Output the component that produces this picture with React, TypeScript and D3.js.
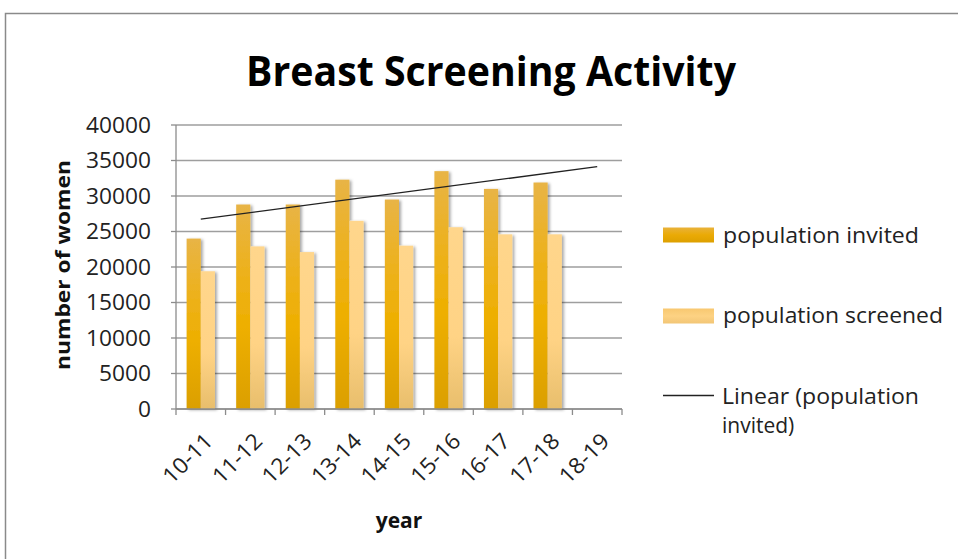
import React from "react";
import * as d3 from "d3";

const categories = ["10-11", "11-12", "12-13", "13-14", "14-15", "15-16", "16-17", "17-18", "18-19"];
const invited = [24000, 28800, 28800, 32300, 29500, 33500, 31000, 31900];
const screened = [19400, 22900, 22100, 26500, 23000, 25600, 24600, 24600];
const yTicks = [0, 5000, 10000, 15000, 20000, 25000, 30000, 35000, 40000];
const seriesNames = ["population invited", "population screened"];

const W = 958;
const H = 559;
const FONT = "'Open Sans', 'Liberation Sans', sans-serif";

export default function App() {
  const x = d3.scaleBand<string>().domain(categories).range([176, 622]).paddingInner(0).paddingOuter(0);
  const bw = x.bandwidth();
  const x1 = d3.scaleBand<string>().domain(["inv", "scr"]).range([0, bw]).paddingInner(0).paddingOuter(0.75);
  const y = d3.scaleLinear().domain([0, 40000]).range([409, 125]);

  // linear trendline of invited, forecast 1 period forward
  const n = invited.length;
  const xs = invited.map((_, i) => i + 1);
  const mx = d3.mean(xs) as number;
  const my = d3.mean(invited) as number;
  const sxy = d3.sum(xs.map((xi, i) => (xi - mx) * (invited[i] - my)));
  const sxx = d3.sum(xs.map((xi) => (xi - mx) * (xi - mx)));
  const slope = sxy / sxx;
  const icpt = my - slope * mx;
  const trendPts: [number, number][] = [1, n + 1].map((k) => [
    (x(categories[k - 1]) as number) + bw / 2,
    y(icpt + slope * k),
  ]);
  const line = d3.line();

  const axisColor = "#8c8c8c";
  const gridColor = "#9e9e9e";

  return (
    <svg width={W} height={H} style={{ position: "absolute", left: 0, top: 0, background: "#fff" }}>
      <defs>
        <linearGradient id="gInv" x1="0" y1="0" x2="0" y2="1">
          <stop offset="0" stopColor="#E8B446" />
          <stop offset="0.35" stopColor="#EDB11A" />
          <stop offset="0.6" stopColor="#EEAF00" />
          <stop offset="1" stopColor="#DB9F00" />
        </linearGradient>
        <linearGradient id="gScr" x1="0" y1="0" x2="0" y2="1">
          <stop offset="0" stopColor="#FFD68C" />
          <stop offset="0.6" stopColor="#FFD385" />
          <stop offset="1" stopColor="#E8BE6C" />
        </linearGradient>
        <linearGradient id="lgInv" x1="0" y1="0" x2="0" y2="1">
          <stop offset="0" stopColor="#E9B23A" />
          <stop offset="0.5" stopColor="#EAAA05" />
          <stop offset="1" stopColor="#DDA000" />
        </linearGradient>
        <linearGradient id="lgScr" x1="0" y1="0" x2="0" y2="1">
          <stop offset="0" stopColor="#F8C870" />
          <stop offset="0.5" stopColor="#FDD283" />
          <stop offset="1" stopColor="#F2C676" />
        </linearGradient>
        <filter id="shadow" x="-30%" y="-10%" width="160%" height="120%">
          <feDropShadow dx="2" dy="1" stdDeviation="1.5" floodColor="#000" floodOpacity="0.35" />
        </filter>
      </defs>

      {/* chart border */}
      <path d={`M5.5,${H} V13.5 H${W}`} fill="none" stroke="#8a8a8a" strokeWidth={1.5} />

      {/* title */}
      <text x={491} y={86} textAnchor="middle" fontFamily={FONT} fontWeight={700} fontSize={42}
        textLength={490} lengthAdjust="spacingAndGlyphs" fill="#000">
        Breast Screening Activity
      </text>

      {/* gridlines */}
      {yTicks.map((t) => (
        <line key={"g" + t} x1={176} x2={622} y1={y(t)} y2={y(t)} stroke={gridColor} strokeWidth={1.3} />
      ))}

      {/* bars */}
      <g filter="url(#shadow)">
        {invited.map((v, i) => (
          <rect key={"i" + i} x={(x(categories[i]) as number) + (x1("inv") as number)} y={y(v)}
            width={x1.bandwidth()} height={y(0) - y(v)} fill="url(#gInv)" />
        ))}
        {screened.map((v, i) => (
          <rect key={"s" + i} x={(x(categories[i]) as number) + (x1("scr") as number)} y={y(v)}
            width={x1.bandwidth()} height={y(0) - y(v)} fill="url(#gScr)" />
        ))}
      </g>

      {/* y axis */}
      <line x1={176} x2={176} y1={125} y2={409} stroke={axisColor} strokeWidth={1.3} />
      {yTicks.map((t) => (
        <g key={"yt" + t}>
          <line x1={171} x2={176} y1={y(t)} y2={y(t)} stroke={axisColor} strokeWidth={1.3} />
          <text x={151} y={y(t) + 7.5} textAnchor="end" fontFamily={FONT} fontSize={21}
            textLength={String(t).length * 13} lengthAdjust="spacingAndGlyphs" fill="#222">
            {t}
          </text>
        </g>
      ))}

      {/* x axis */}
      <line x1={176} x2={622} y1={409} y2={409} stroke={axisColor} strokeWidth={1.3} />
      {categories.concat(["end"]).map((c, i) => {
        const xx = i < categories.length ? (x(c) as number) : 622;
        return <line key={"xt" + i} x1={xx} x2={xx} y1={409} y2={415} stroke={axisColor} strokeWidth={1.3} />;
      })}
      {categories.map((c) => {
        const cx = (x(c) as number) + bw / 2;
        return (
          <text key={"xl" + c} transform={`translate(${cx + 2},${431}) rotate(-45)`} textAnchor="end"
            dy="0.74em" fontFamily={FONT} fontSize={22} textLength={60} lengthAdjust="spacingAndGlyphs" fill="#222">
            {c}
          </text>
        );
      })}

      {/* trendline */}
      <path d={line(trendPts) as string} fill="none" stroke="#222" strokeWidth={1.3} />

      {/* axis titles */}
      <text x={399} y={528} textAnchor="middle" fontFamily={FONT} fontWeight={700} fontSize={21} fill="#111">
        year
      </text>
      <text transform="translate(70,265) rotate(-90)" textAnchor="middle" fontFamily={FONT} fontWeight={700}
        fontSize={20} textLength={210} lengthAdjust="spacingAndGlyphs" fill="#111">
        number of women
      </text>

      {/* legend */}
      <rect x={663} y={227.5} width={51} height={15} fill="url(#lgInv)" />
      <text x={723} y={243} fontFamily={FONT} fontSize={21} textLength={196} lengthAdjust="spacingAndGlyphs" fill="#222">
        {seriesNames[0]}
      </text>
      <rect x={663} y={308.5} width={51} height={15} fill="url(#lgScr)" />
      <text x={723} y={322.5} fontFamily={FONT} fontSize={21} textLength={220} lengthAdjust="spacingAndGlyphs" fill="#222">
        {seriesNames[1]}
      </text>
      <line x1={663} x2={714} y1={395.5} y2={395.5} stroke="#222" strokeWidth={1.3} />
      <text x={722} y={404} fontFamily={FONT} fontSize={21} fill="#222">
        <tspan x={722} y={404} textLength={197} lengthAdjust="spacingAndGlyphs">{"Linear (" + seriesNames[0].split(" ")[0]}</tspan>
        <tspan x={722} y={432.5}>{seriesNames[0].split(" ")[1] + ")"}</tspan>
      </text>
    </svg>
  );
}
